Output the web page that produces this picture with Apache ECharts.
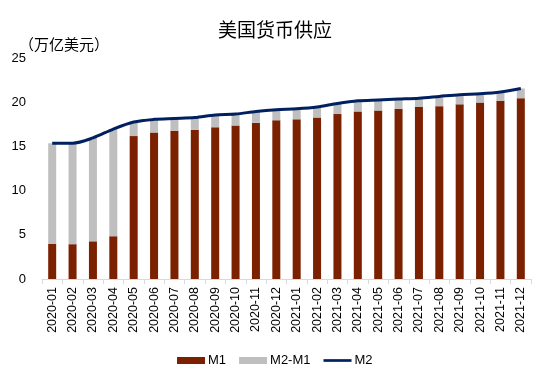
<!DOCTYPE html>
<html><head><meta charset="utf-8">
<script src="https://cdn.jsdelivr.net/npm/echarts@6/dist/echarts.min.js"></script>
<style>html,body{margin:0;padding:0;background:#fff}#c{width:550px;height:379px}</style>
</head><body><div id="c"></div>
<script>
const categories = ['2020-01','2020-02','2020-03','2020-04','2020-05','2020-06','2020-07','2020-08','2020-09','2020-10','2020-11','2020-12','2021-01','2021-02','2021-03','2021-04','2021-05','2021-06','2021-07','2021-08','2021-09','2021-10','2021-11','2021-12'];
const m1 = [3.98,3.95,4.27,4.85,16.2,16.6,16.8,16.9,17.2,17.4,17.7,18.0,18.1,18.3,18.7,19.0,19.1,19.3,19.5,19.6,19.8,20.0,20.2,20.5];
const m2 = [15.4,15.4,16.0,17.0,17.8,18.1,18.2,18.3,18.6,18.7,19.0,19.2,19.3,19.5,19.9,20.2,20.3,20.4,20.5,20.7,20.9,21.0,21.2,21.6];
const m2m1 = m2.map((v,i)=>+(v-m1[i]).toFixed(2));
const yTicks = [0,5,10,15,20,25];
const font = 'Arial, "Liberation Sans", "Noto Sans CJK SC", sans-serif';
const cjk = '"Noto Sans CJK SC", sans-serif';
const chart = echarts.init(document.getElementById('c'), null, {renderer:'canvas'});
chart.setOption({
  animation:false,
  textStyle:{fontFamily:font},
  title:[{text:'美国货币供应',left:'center',top:13,textStyle:{fontSize:19,fontWeight:'normal',color:'#000',fontFamily:cjk,lineHeight:24}},
         {text:'（万亿美元）',left:14,top:30,textStyle:{fontSize:15,fontWeight:'normal',color:'#000',fontFamily:cjk,lineHeight:18}}],
  legend:{bottom:7,left:172,itemGap:13,itemWidth:28,itemHeight:7,textStyle:{fontSize:13,color:'#000',padding:[0,0,0,-2]},
    data:[{name:'M1',icon:'rect'},{name:'M2-M1',icon:'rect'},{name:'M2',icon:'path://M0,0 L31,0 L31,3 L0,3 Z',itemWidth:31}]},
  grid:{left:42,right:19,top:58.5,bottom:100},
  xAxis:{type:'category',data:categories,
    axisLine:{lineStyle:{color:'#D9D9D9'}},axisTick:{show:true,lineStyle:{color:'#D9D9D9'},length:5},
    axisLabel:{rotate:90,fontSize:12.5,color:'#000',margin:8}},
  yAxis:{type:'value',min:yTicks[0],max:yTicks[yTicks.length-1],interval:5,
    splitLine:{show:false},axisLine:{show:false},axisTick:{show:false},
    axisLabel:{fontSize:13,color:'#000',margin:16}},
  series:[
    {name:'M1',type:'bar',stack:'s',data:m1,barWidth:8,itemStyle:{color:'#7B2100'}},
    {name:'M2-M1',type:'bar',stack:'s',data:m2m1,barWidth:8,itemStyle:{color:'#BFBFBF'}},
    {name:'M2',type:'line',data:m2,symbol:'none',smooth:0.3,lineStyle:{color:'#002060',width:3},itemStyle:{color:'#002060'}}
  ]
});
</script></body></html>
